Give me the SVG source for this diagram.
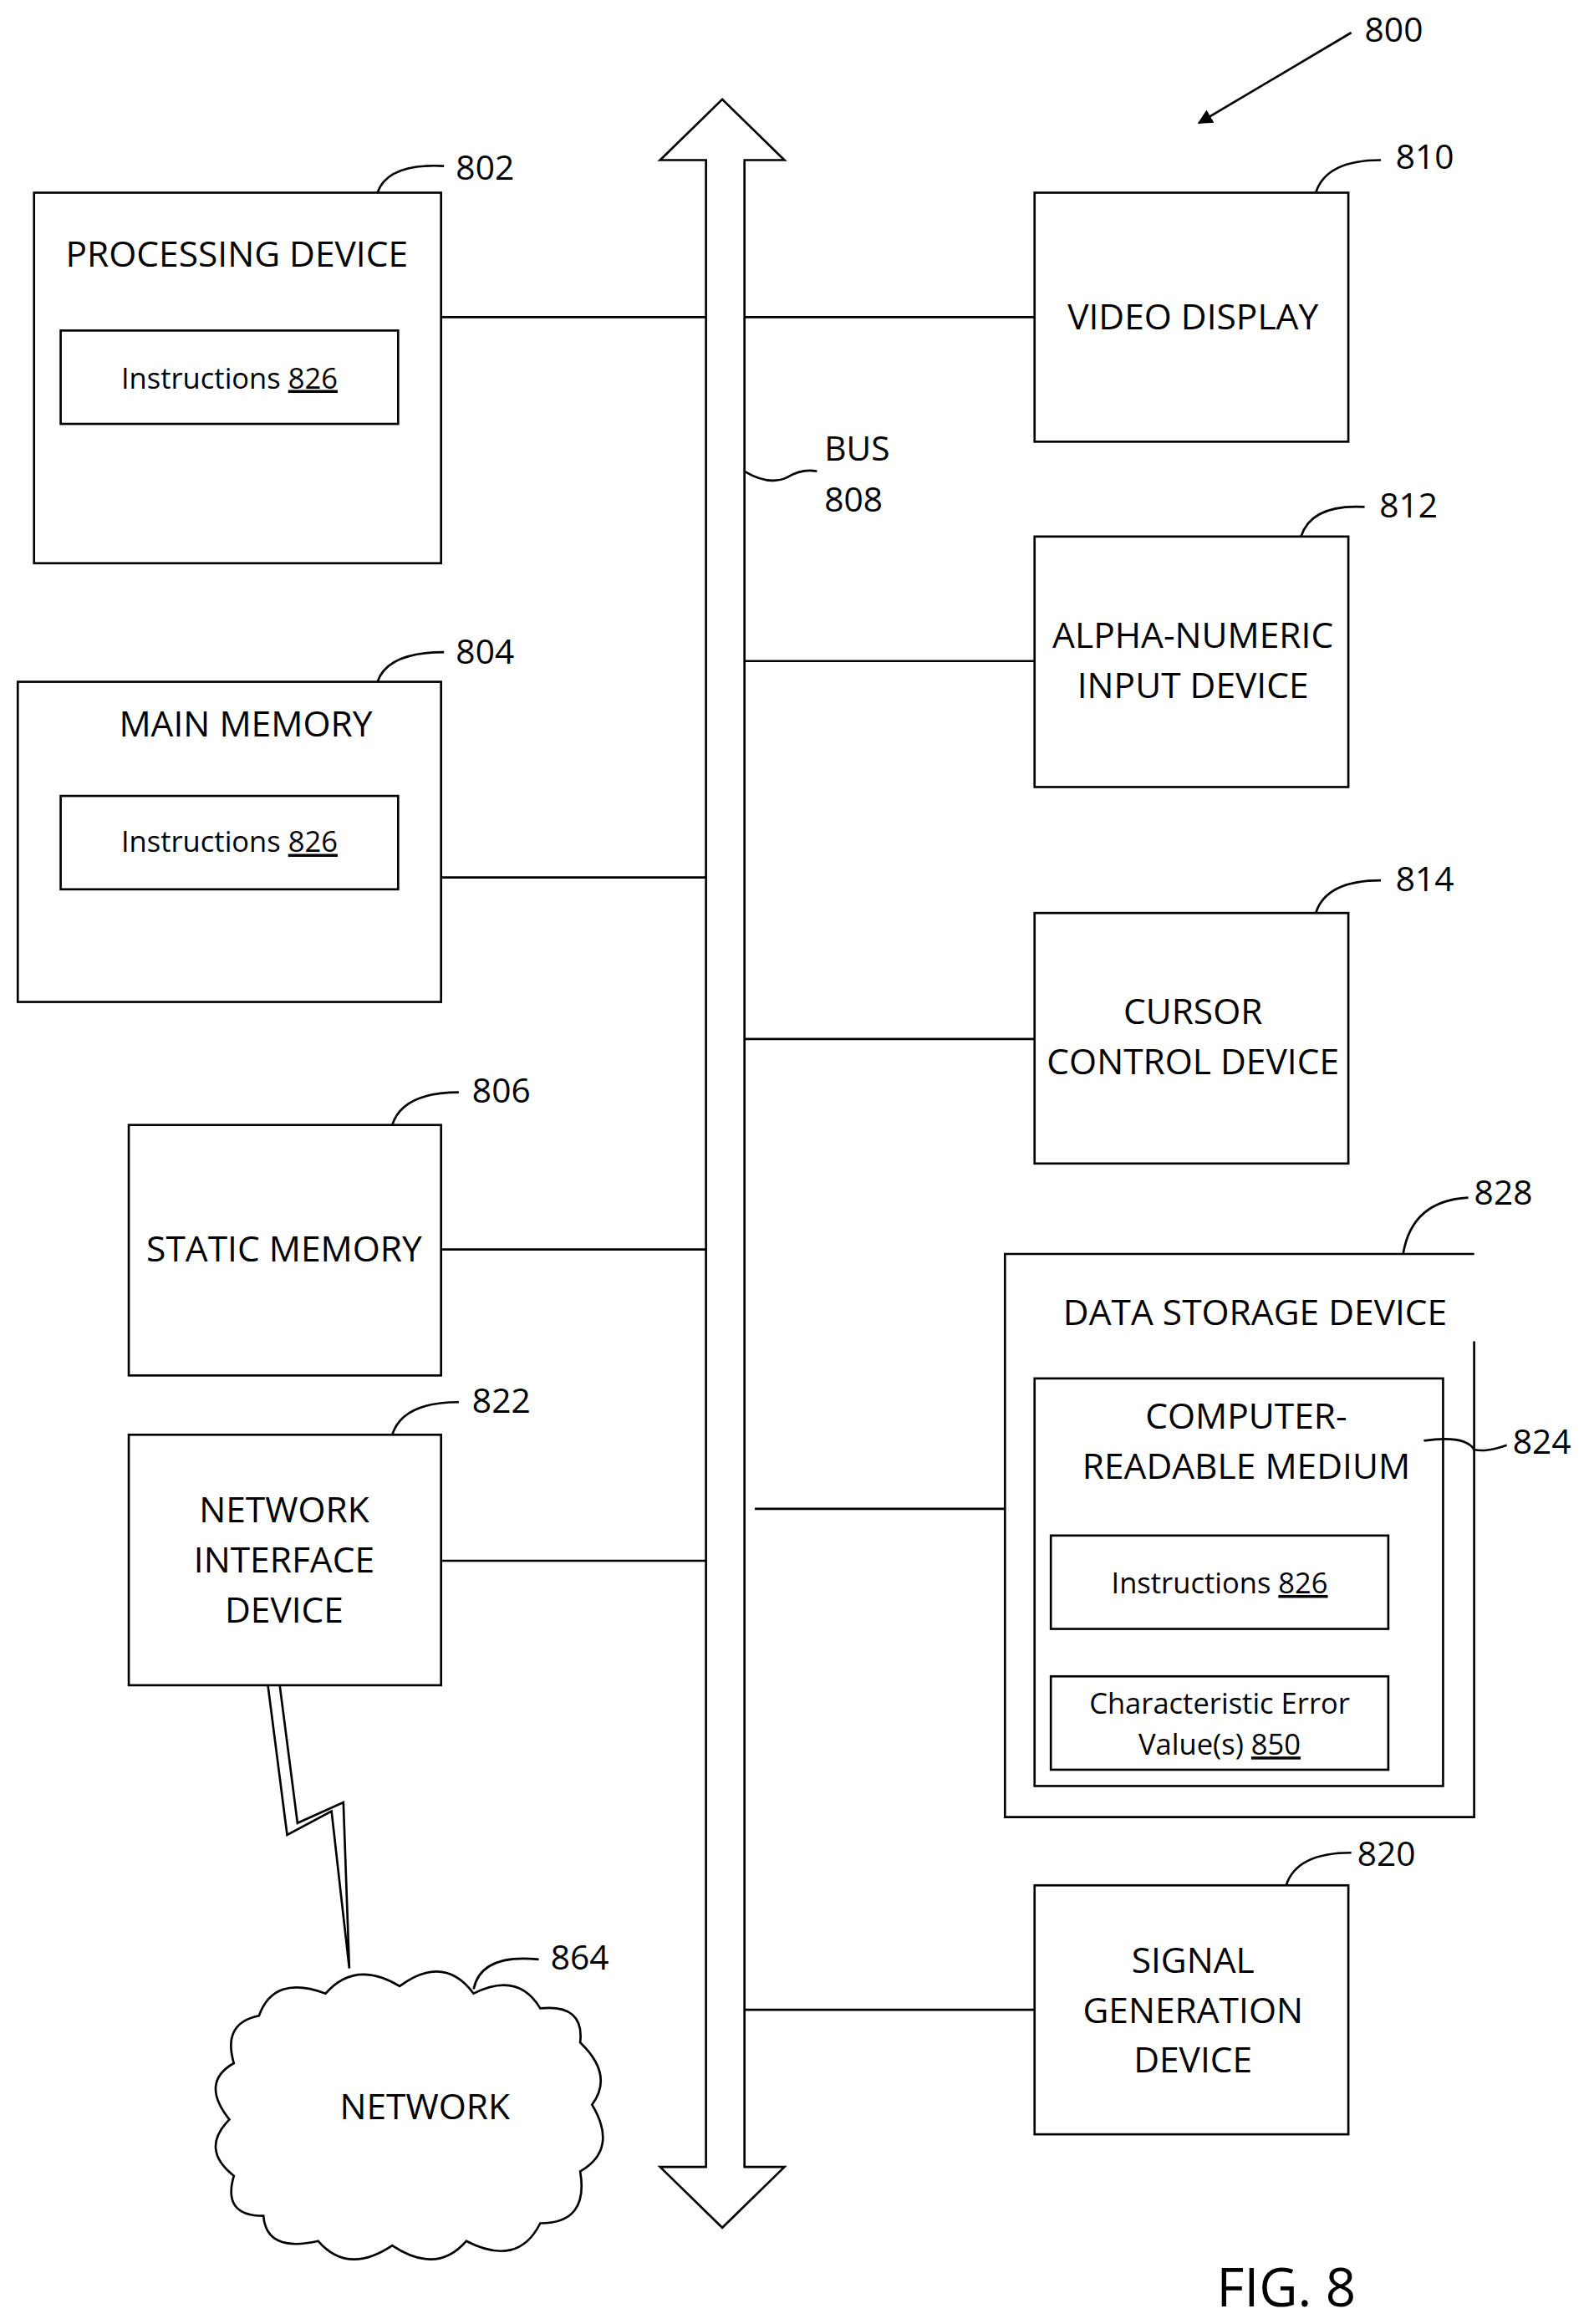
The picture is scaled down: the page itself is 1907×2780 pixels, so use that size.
<svg xmlns="http://www.w3.org/2000/svg" width="1907" height="2780" viewBox="0 0 1907 2780">
<style>
.b{fill:none;stroke:#000;stroke-width:1.5}
.t{font-family:"Open Sans","Liberation Sans",sans-serif;font-size:24px;text-anchor:middle;fill:#000}
.s{font-family:"Open Sans","Liberation Sans",sans-serif;font-size:19.5px;text-anchor:middle;fill:#000}
.l{font-family:"Open Sans","Liberation Sans",sans-serif;font-size:23px;fill:#000}
</style>
<defs><marker id="ah" markerWidth="10" markerHeight="10" refX="9" refY="5" orient="auto" markerUnits="userSpaceOnUse" viewBox="0 0 10 10"><path d="M0,0 L10,5 L0,10 z" fill="#000"/></marker></defs>
<rect width="1907" height="2780" fill="#fff"/>
<g transform="scale(1.7707,1.773)">
<g id="bus">
<path class="b" d="M477,108 L446,108 L488,67 L530,108 L503,108 L503,1462 L530,1462 L488,1503 L446,1462 L477,1462 Z" fill="#fff"/>
<text class="l" x="557" y="311">BUS</text><text class="l" x="557" y="345">808</text>
<path class="b" d="M503,318 Q520,328 532,322 Q542,316 552,318"/>
</g>
<g id="connectors" class="b">
<path d="M298,214H477M503,214H699M298,592H477M503,446H699M503,701H699M298,843H477M298,1053H477M510,1018H679M503,1356H699"/>
</g>
<g id="n800"><text class="l" x="922" y="28">800</text><path class="b" d="M913,22 L810,83" marker-end="url(#ah)"/></g>
<g id="n802">
<rect class="b" x="23" y="130" width="275" height="250"/>
<text class="t" x="160" y="180">PROCESSING DEVICE</text>
<rect class="b" x="41" y="223" width="228" height="63"/>
<text class="s" x="155" y="262">Instructions <tspan text-decoration="underline">826</tspan></text>
<text class="l" x="308" y="121">802</text><path class="b" d="M255,130 Q262,110 300,112"/>
</g>
<g id="n804">
<rect class="b" x="12" y="460" width="286" height="216"/>
<text class="t" x="166" y="497">MAIN MEMORY</text>
<rect class="b" x="41" y="537" width="228" height="63"/>
<text class="s" x="155" y="575">Instructions <tspan text-decoration="underline">826</tspan></text>
<text class="l" x="308" y="448">804</text><path class="b" d="M255,460 Q262,440 300,440"/>
</g>
<g id="n806">
<rect class="b" x="87" y="759" width="211" height="169"/>
<text class="t" x="192" y="851">STATIC MEMORY</text>
<text class="l" x="319" y="744">806</text><path class="b" d="M265,759 Q272,737 310,737"/>
</g>
<g id="n822">
<rect class="b" x="87" y="968" width="211" height="169"/>
<text class="t" x="192" y="1027">NETWORK</text><text class="t" x="192" y="1061">INTERFACE</text><text class="t" x="192" y="1095">DEVICE</text>
<text class="l" x="319" y="953">822</text><path class="b" d="M265,968 Q272,946 310,946"/>
</g>
<g id="n810">
<rect class="b" x="699" y="130" width="212" height="168"/>
<text class="t" x="806" y="222">VIDEO DISPLAY</text>
<text class="l" x="943" y="114">810</text><path class="b" d="M889,130 Q896,108 933,108"/>
</g>
<g id="n812">
<rect class="b" x="699" y="362" width="212" height="169"/>
<text class="t" x="806" y="437">ALPHA-NUMERIC</text><text class="t" x="806" y="471">INPUT DEVICE</text>
<text class="l" x="932" y="349">812</text><path class="b" d="M879,362 Q886,340 922,342"/>
</g>
<g id="n814">
<rect class="b" x="699" y="616" width="212" height="169"/>
<text class="t" x="806" y="691">CURSOR</text><text class="t" x="806" y="725">CONTROL DEVICE</text>
<text class="l" x="943" y="601">814</text><path class="b" d="M889,616 Q896,594 933,594"/>
</g>
<g id="n828">
<path class="b" d="M996,905 L996,1226 L679,1226 L679,846 L996,846"/>
<text class="t" x="848" y="894">DATA STORAGE DEVICE</text>
<text class="l" x="996" y="813">828</text><path class="b" d="M948,846 Q954,810 992,808"/>
</g>
<g id="n824">
<rect class="b" x="699" y="930" width="276" height="275"/>
<text class="t" x="842" y="964">COMPUTER-</text><text class="t" x="842" y="998">READABLE MEDIUM</text>
<text class="l" x="1022" y="981">824</text><path class="b" d="M962,972 Q990,968 996,978 Q1004,980 1018,975"/>
</g>
<g id="n826">
<rect class="b" x="710" y="1036" width="228" height="63"/>
<text class="s" x="824" y="1075">Instructions <tspan text-decoration="underline">826</tspan></text>
</g>
<g id="n850">
<rect class="b" x="710" y="1131" width="228" height="63"/>
<text class="s" x="824" y="1156">Characteristic Error</text>
<text class="s" x="824" y="1184">Value(s) <tspan text-decoration="underline">850</tspan></text>
</g>
<g id="n820">
<rect class="b" x="699" y="1272" width="212" height="168"/>
<text class="t" x="806" y="1331">SIGNAL</text><text class="t" x="806" y="1365">GENERATION</text><text class="t" x="806" y="1398">DEVICE</text>
<text class="l" x="917" y="1259">820</text><path class="b" d="M869,1272 Q876,1250 913,1250"/>
</g>
<g id="lightning"><path class="b" d="M181,1137 L194,1238 L224,1222 L236,1328 L232,1216 L201,1230 L189,1137"/></g>
<g id="n864">
<path class="b" fill="#fff" d="M175,1360 Q185,1332 220,1345 Q240,1322 270,1340 Q300,1318 320,1345 Q350,1330 365,1355 Q395,1352 392,1378 Q415,1400 400,1420 Q418,1450 392,1465 Q398,1500 365,1500 Q350,1530 315,1512 Q295,1535 265,1515 Q235,1535 215,1512 Q180,1520 178,1495 Q150,1495 158,1468 Q135,1450 155,1430 Q135,1405 158,1392 Q150,1365 175,1360 Z"/>
<text class="t" x="287" y="1430">NETWORK</text>
<text class="l" x="372" y="1329">864</text><path class="b" d="M320,1342 Q325,1318 364,1322"/>
</g>
<text class="l" x="822" y="1556" style="font-size:36px">FIG. 8</text>
</g>
</svg>
